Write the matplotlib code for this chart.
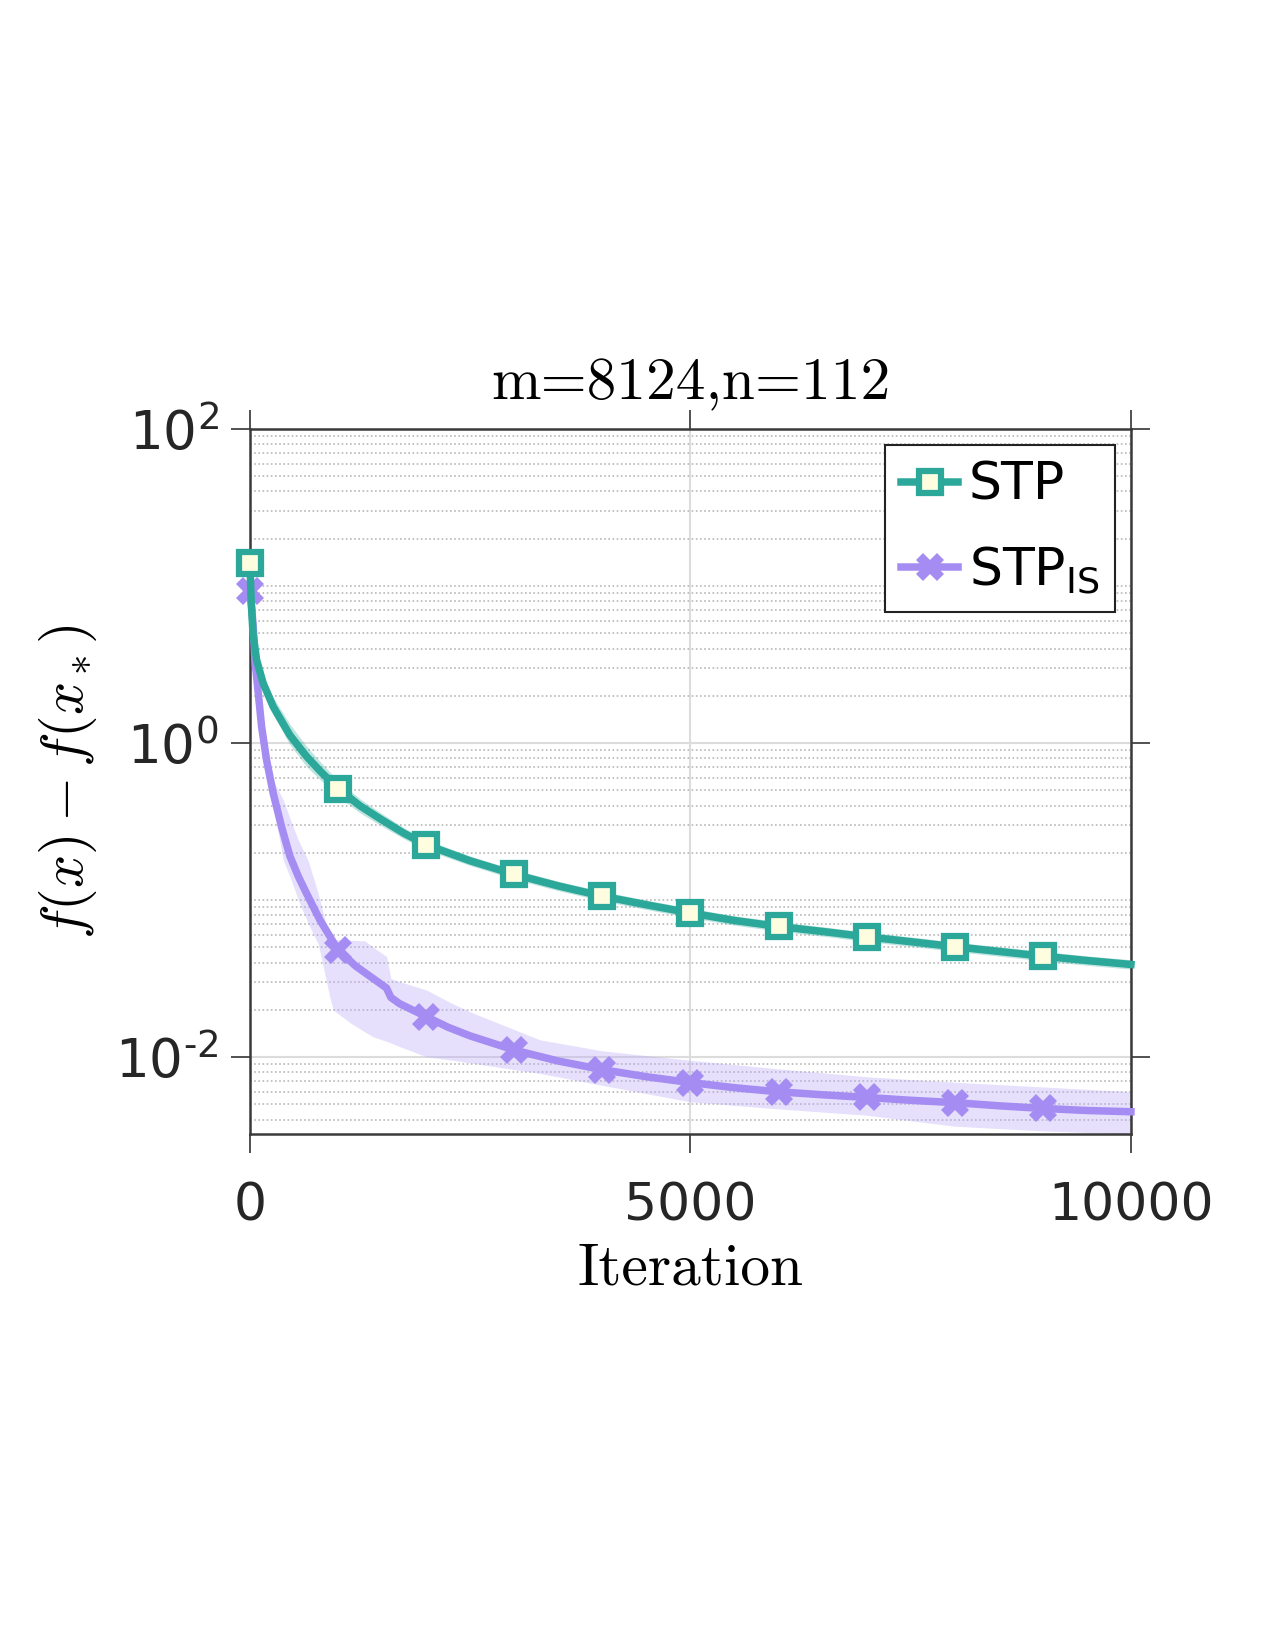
import numpy as np
import matplotlib
matplotlib.use("Agg")
import matplotlib.pyplot as plt
from matplotlib.ticker import LogLocator, NullFormatter, FixedLocator, FixedFormatter

# ---- data (values in log10) ----
stp_iter = [0, 15, 35, 76, 151, 265, 454, 643, 800, 1000, 1250, 1500, 1750, 2000, 2500,
            3000, 3500, 4000, 4500, 5000, 5500, 6000, 6500, 7000, 7500, 8000,
            8500, 9000, 9500, 10000]
stp_log = [1.146, 0.90, 0.70, 0.529, 0.38, 0.231, 0.05, -0.085, -0.18, -0.290,
           -0.40, -0.49, -0.575, -0.648, -0.75, -0.836, -0.91, -0.975, -1.03, -1.082,
           -1.13, -1.168, -1.20, -1.234, -1.265, -1.297, -1.327, -1.357, -1.385, -1.41]
stp_hi_log = [1.16, 0.93, 0.74, 0.57, 0.43, 0.29, 0.12, -0.02, -0.12, -0.24,
              -0.355, -0.45, -0.54, -0.615, -0.72, -0.805, -0.88, -0.945, -1.0, -1.052,
              -1.10, -1.138, -1.17, -1.204, -1.235, -1.267, -1.297, -1.327, -1.355, -1.38]
stp_lo_log = [1.13, 0.87, 0.66, 0.49, 0.33, 0.18, -0.01, -0.15, -0.235, -0.34,
              -0.445, -0.53, -0.61, -0.68, -0.78, -0.867, -0.94, -1.005, -1.06, -1.112,
              -1.16, -1.198, -1.23, -1.264, -1.295, -1.327, -1.357, -1.387, -1.415, -1.44]

stpis_iter = [0, 20, 38, 57, 95, 133, 189, 265, 359, 454, 550, 643, 795, 1000, 1200,
              1400, 1550, 1600, 1700, 2000, 2250, 2500, 3000, 3500, 4000, 4500, 5000,
              5500, 6000, 6500, 7000, 7500, 8000, 8500, 9000, 9500, 10000]
stpis_log = [0.97, 0.86, 0.741, 0.529, 0.317, 0.104, -0.108, -0.321, -0.533, -0.72,
             -0.85, -0.958, -1.127, -1.317, -1.42, -1.50, -1.56, -1.62, -1.66, -1.742,
             -1.81, -1.865, -1.955, -2.025, -2.08, -2.125, -2.162, -2.195, -2.221,
             -2.24, -2.257, -2.275, -2.29, -2.31, -2.327, -2.34, -2.348]

band_iter = [0, 57, 133, 189, 265, 378, 454, 550, 662, 776, 908, 946, 1097, 1135,
             1305, 1400, 1552, 1600, 1703, 2005, 2300, 2535, 3292, 4000, 5000,
             6000, 7000, 8000, 9000, 10000]
band_hi_log = [0.99, 0.55, 0.13, -0.07, -0.24, -0.36, -0.48, -0.62, -0.75, -0.96,
               -1.25, -1.25, -1.255, -1.255, -1.26, -1.30, -1.36, -1.50, -1.52,
               -1.573, -1.66, -1.72, -1.89, -1.96, -2.02, -2.075, -2.125, -2.16,
               -2.19, -2.22]
band_lo_log = [0.95, 0.50, 0.07, -0.16, -0.40, -0.745, -0.85, -1.00, -1.15, -1.28,
               -1.62, -1.70, -1.764, -1.78, -1.84, -1.871, -1.90, -1.91, -1.934,
               -1.998, -2.02, -2.04, -2.104, -2.18, -2.285, -2.33, -2.37, -2.44,
               -2.47, -2.49]

marker_iters = [0, 1000, 2000, 3000, 4000, 5000, 6000, 7000, 8000, 9000]
x_ticks = [0, 5000, 10000]
y_ticks = [1e-2, 1, 1e2]
y_ticklabels = ["$10^{\u20102}$", "$10^{0}$", "$10^{2}$"]

teal = "#2ba89a"
purple = "#a48cf2"

plt.rcParams["mathtext.fontset"] = "dejavusans"
plt.rcParams["font.family"] = ["DejaVu Sans"]

fig = plt.figure(figsize=(8.5, 11), dpi=150)
ax = fig.add_axes([0.196, 0.3127, 0.691, 0.4273])

def p10(v):
    return 10 ** np.array(v)

ax.fill_between(stp_iter, p10(stp_lo_log), p10(stp_hi_log), color=teal, alpha=0.3, lw=0)
ax.fill_between(band_iter, p10(band_lo_log), p10(band_hi_log), color="#b9a8f7", alpha=0.35, lw=0)

mk_stp = [i for i, v in enumerate(stp_iter) if v in marker_iters]
mk_is = [i for i, v in enumerate(stpis_iter) if v in marker_iters]

ax.plot(stp_iter, p10(stp_log), color=teal, lw=3.6, marker="s", ms=11, mew=3,
        mec=teal, mfc="#fffde0", markevery=mk_stp, label="STP", zorder=4, clip_on=False)
ax.plot(stpis_iter, p10(stpis_log), color=purple, lw=3.6, marker="X", ms=13, mew=0,
        markevery=mk_is, label=r"STP$_{\mathregular{IS}}$", zorder=3, clip_on=False)

ax.set_yscale("log")
ax.set_xlim(0, 10000)
ax.set_ylim(10 ** -2.49, 100)
ax.set_xticks(x_ticks)
ax.yaxis.set_major_locator(FixedLocator(y_ticks))
ax.yaxis.set_major_formatter(FixedFormatter(y_ticklabels))
ax.yaxis.set_minor_locator(LogLocator(base=10, subs=np.arange(1, 10), numticks=100))
ax.yaxis.set_minor_formatter(NullFormatter())

ax.grid(True, which="major", color="#dcdcdc", lw=1.0, ls="-")
ax.grid(True, which="minor", axis="y", color="#b8b8b8", lw=0.8, ls=(0, (1, 1.5)))
ax.set_axisbelow(True)

ax.tick_params(which="major", direction="out", length=9, width=0.8, color="#333333",
               top=True, right=True, labelcolor="#262626")
ax.tick_params(axis="x", pad=14, labelsize=25)
ax.tick_params(axis="y", pad=6, labelsize=25.5)
ax.tick_params(which="minor", length=0)
for s in ax.spines.values():
    s.set_color("#3a3a3a")
    s.set_linewidth(1.2)

ax.set_title("m=8124,n=112", fontfamily="cmr10", fontsize=28.5, pad=14)
ax.set_xlabel("Iteration", fontfamily="cmr10", fontsize=28.5, labelpad=5)
ax.set_ylabel(r"$f(x) - f(x_*)$", fontsize=28, math_fontfamily="cm", labelpad=8)

leg = ax.legend(loc="upper right", bbox_to_anchor=(0.982, 0.977), borderaxespad=0,
                fontsize=25, fancybox=False, edgecolor="#222222", framealpha=1,
                handlelength=1.1, handletextpad=0.2, borderpad=0.3, labelspacing=0.65)
leg.get_frame().set_linewidth(1.0)

fig.savefig("out.png", dpi=150)
